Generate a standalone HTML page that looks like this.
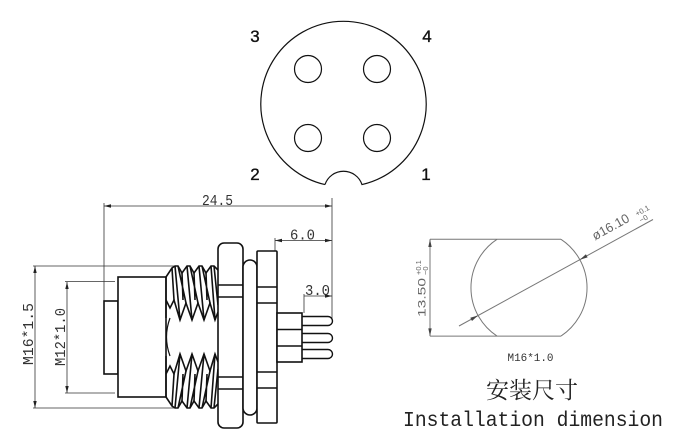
<!DOCTYPE html>
<html><head><meta charset="utf-8"><style>
html,body{margin:0;padding:0;background:#fff;}
svg{display:block;}
</style></head><body>
<svg width="680" height="440" viewBox="0 0 680 440" xmlns="http://www.w3.org/2000/svg">
<rect width="680" height="440" fill="#fff"/>

<!-- TOP VIEW -->
<g fill="none" stroke="#111" stroke-width="1.2">
<path d="M325,184.6 A82.7,82.7 0 1 1 362,184.6 A19.5,19.5 0 0 0 325,184.6"/>
<circle cx="308" cy="69" r="13.5"/>
<circle cx="377" cy="69" r="13.5"/>
<circle cx="308" cy="138" r="13.5"/>
<circle cx="377" cy="138" r="13.5"/>
</g>
<g font-family="Liberation Sans, sans-serif" font-size="17" fill="#111" stroke="#111" stroke-width="0.35" text-anchor="middle">
<text x="255" y="42">3</text>
<text x="427" y="42">4</text>
<text x="255" y="180">2</text>
<text x="426" y="180">1</text>
</g>

<!-- SIDE VIEW dimension lines -->
<g stroke="#333" stroke-width="0.8" fill="none">
<line x1="104" y1="206" x2="332" y2="206"/>
<line x1="104" y1="203" x2="104" y2="301"/>
<line x1="332" y1="198" x2="332" y2="320"/>
<line x1="275" y1="240.5" x2="332" y2="240.5"/>
<line x1="275" y1="238" x2="275" y2="252"/>
<line x1="304" y1="296" x2="332" y2="296"/>
<line x1="304" y1="294" x2="304" y2="313"/>
<line x1="35" y1="266" x2="35" y2="408"/>
<line x1="33" y1="266" x2="178" y2="266"/>
<line x1="33" y1="408" x2="178" y2="408"/>
<line x1="67" y1="282" x2="67" y2="393"/>
<line x1="65" y1="281.5" x2="115" y2="281.5"/>
<line x1="65" y1="393" x2="115" y2="393"/>
</g>
<g fill="#222">
<polygon points="104,206 111,204.3 111,207.7"/>
<polygon points="332,206 325,204.3 325,207.7"/>
<polygon points="275,240.5 282,238.8 282,242.2"/>
<polygon points="332,240.5 325,238.8 325,242.2"/>
<polygon points="332,296 325,294.3 325,297.7"/>
<polygon points="35,266 33.3,273 36.7,273"/>
<polygon points="35,408 33.3,401 36.7,401"/>
<polygon points="67,282 65.3,289 68.7,289"/>
<polygon points="67,393 65.3,386 68.7,386"/>
</g>
<g font-family="Liberation Mono, monospace" font-size="15" fill="#333">
<text x="202" y="205" textLength="31" lengthAdjust="spacingAndGlyphs">24.5</text>
<text x="290" y="239.5" textLength="25" lengthAdjust="spacingAndGlyphs">6.0</text>
<text x="305" y="295" textLength="25" lengthAdjust="spacingAndGlyphs">3.0</text>
<text transform="translate(33,365) rotate(-90)" textLength="62" lengthAdjust="spacingAndGlyphs">M16*1.5</text>
<text transform="translate(65,366) rotate(-90)" textLength="58" lengthAdjust="spacingAndGlyphs">M12*1.0</text>
</g>

<!-- SIDE VIEW body -->
<g fill="#fff" stroke="#111" stroke-width="1.6">
<rect x="104" y="301" width="14" height="73"/>
<rect x="118" y="277" width="48" height="120"/>
</g>
<!-- threads -->
<g fill="none" stroke="#111" stroke-width="1.6">
<path d="M166,277 L172,268 L175,266 L178,266 L182,273 L187,266 L190,266 L194,273 L199,266 L202,266 L206,273 L211,266 L214,266 L218,270"/>
<path d="M166,300 L170,308 L174,300 L180,320 L186,303 L192,320 L198,303 L204,320 L210,303 L215,320 L218,312"/>
<path d="M175,266 L180,320 M178,266 L186,303 M187,266 L192,320 M190,266 L198,303 M199,266 L204,320 M202,266 L210,303 M211,266 L215,320 M214,266 L218,305 M172,268 L174,300 M182,273 L183,300 M194,273 L195,300 M206,273 L207,300"/>
<path d="M166,277 L166,318"/>
</g>
<g fill="none" stroke="#111" stroke-width="1.6" transform="translate(0,674) scale(1,-1)">
<path d="M166,277 L172,268 L175,266 L178,266 L182,273 L187,266 L190,266 L194,273 L199,266 L202,266 L206,273 L211,266 L214,266 L218,270"/>
<path d="M166,300 L170,308 L174,300 L180,320 L186,303 L192,320 L198,303 L204,320 L210,303 L215,320 L218,312"/>
<path d="M175,266 L180,320 M178,266 L186,303 M187,266 L192,320 M190,266 L198,303 M199,266 L204,320 M202,266 L210,303 M211,266 L215,320 M214,266 L218,305 M172,268 L174,300 M182,273 L183,300 M194,273 L195,300 M206,273 L207,300"/>
<path d="M166,277 L166,318"/>
</g>
<path d="M170,318 Q163,337 170,356" fill="none" stroke="#111" stroke-width="1.2"/>

<!-- nut, o-ring, flange -->
<g fill="#fff" stroke="#111" stroke-width="1.6">
<rect x="218" y="243" width="25" height="185" rx="6"/>
<rect x="243" y="260" width="14" height="155" rx="7"/>
<rect x="257" y="251" width="20" height="172" rx="1"/>
<rect x="277" y="313" width="25" height="49"/>
</g>
<g fill="none" stroke="#111" stroke-width="1.4">
<line x1="218" y1="285" x2="243" y2="285"/>
<line x1="218" y1="297" x2="243" y2="297"/>
<line x1="218" y1="377" x2="243" y2="377"/>
<line x1="218" y1="389" x2="243" y2="389"/>
<line x1="257" y1="287" x2="277" y2="287"/>
<line x1="257" y1="303" x2="277" y2="303"/>
<line x1="257" y1="372" x2="277" y2="372"/>
<line x1="257" y1="388" x2="277" y2="388"/>
<line x1="277" y1="329.5" x2="302" y2="329.5"/>
<line x1="277" y1="346" x2="302" y2="346"/>
<path d="M302,316.5 H328 A4.5,4.5 0 0 1 328,325.5 H302"/>
<path d="M302,333.5 H328 A4.5,4.5 0 0 1 328,342.5 H302"/>
<path d="M302,349.5 H328 A4.5,4.5 0 0 1 328,358.5 H302"/>
</g>

<!-- RIGHT VIEW -->
<g fill="none" stroke="#777" stroke-width="1">
<line x1="430" y1="239.3" x2="561" y2="239.3"/>
<line x1="430" y1="336.1" x2="561" y2="336.1"/>
<path d="M497,239.3 A58,58 0 0 0 497,336.1"/>
<path d="M561,239.3 A58,58 0 0 1 561,336.1"/>
<line x1="430" y1="239.3" x2="430" y2="336.1"/>
<line x1="459" y1="326" x2="653" y2="219.5"/>
</g>
<g fill="#444">
<polygon points="430,239.3 428.3,247 431.7,247"/>
<polygon points="430,336.1 428.3,328.4 431.7,328.4"/>
<polygon points="478,315.5 470.3,317.8 472.0,321.0 "/>
<polygon points="579.8,259.7 587.6,257.4 585.9,254.2"/>
</g>
<g font-family="Liberation Sans, sans-serif" fill="#666">
<text transform="translate(425.5,317) rotate(-90)" font-size="11" textLength="39" lengthAdjust="spacingAndGlyphs">13.50</text>
<text transform="translate(421,275) rotate(-90)" font-size="7.5">+0.1</text>
<text transform="translate(428,275) rotate(-90)" font-size="7.5">−0</text>
<text transform="translate(595,240.5) rotate(-28.8)" font-size="13">ø16.10</text>
<text transform="translate(637,216.5) rotate(-28.8)" font-size="7.5">+0.1</text>
<text transform="translate(641,223) rotate(-28.8)" font-size="7.5">−0</text>
</g>
<text x="530.5" y="361" font-family="Liberation Mono, monospace" font-size="11" fill="#333" text-anchor="middle" textLength="46" lengthAdjust="spacingAndGlyphs">M16*1.0</text>
<text x="532" y="398" font-family="Liberation Serif, 'Noto Serif CJK SC', serif" font-size="23" fill="#222" text-anchor="middle">安装尺寸</text>
<text x="403" y="426" font-family="Liberation Mono, monospace" font-size="21" fill="#222" textLength="260" lengthAdjust="spacingAndGlyphs">Installation dimension</text>
</svg>
</body></html>
